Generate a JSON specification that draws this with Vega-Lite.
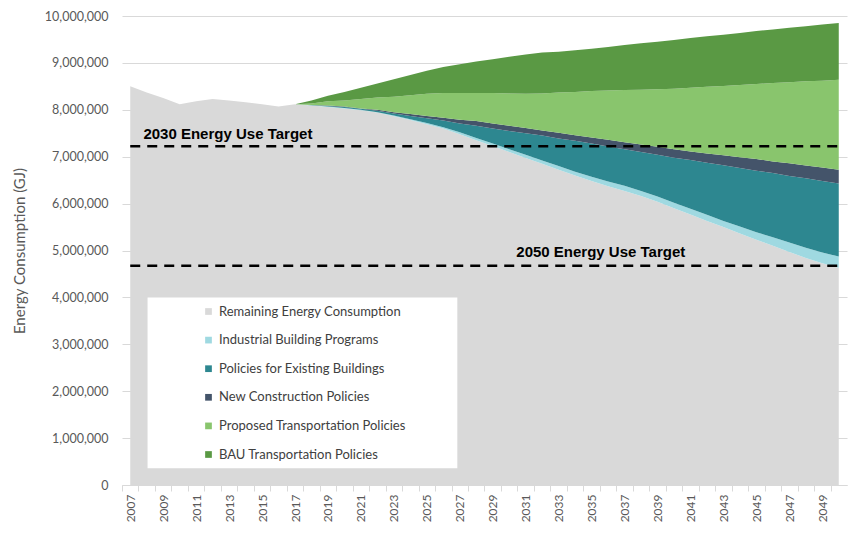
{
  "$schema": "https://vega.github.io/schema/vega-lite/v6.json",
  "width": 725,
  "height": 469,
  "autosize": {"type": "none"},
  "padding": {"left": 122, "top": 16, "right": 8, "bottom": 49},
  "background": "white",
  "config": {"view": {"stroke": null}, "axisX": {"labelOverlap": false, "labelBound": false}},
  "layer": [
    {
      "data": {"values": [
        {"year": 2007, "rem": 8500000, "ind": 0, "exi": 0, "newc": 0, "prop": 0, "bau": 0},
        {"year": 2008, "rem": 8370000, "ind": 0, "exi": 0, "newc": 0, "prop": 0, "bau": 0},
        {"year": 2009, "rem": 8250000, "ind": 0, "exi": 0, "newc": 0, "prop": 0, "bau": 0},
        {"year": 2010, "rem": 8120000, "ind": 0, "exi": 0, "newc": 0, "prop": 0, "bau": 0},
        {"year": 2011, "rem": 8180000, "ind": 0, "exi": 0, "newc": 0, "prop": 0, "bau": 0},
        {"year": 2012, "rem": 8230000, "ind": 0, "exi": 0, "newc": 0, "prop": 0, "bau": 0},
        {"year": 2013, "rem": 8200000, "ind": 0, "exi": 0, "newc": 0, "prop": 0, "bau": 0},
        {"year": 2014, "rem": 8160000, "ind": 0, "exi": 0, "newc": 0, "prop": 0, "bau": 0},
        {"year": 2015, "rem": 8120000, "ind": 0, "exi": 0, "newc": 0, "prop": 0, "bau": 0},
        {"year": 2016, "rem": 8070000, "ind": 0, "exi": 0, "newc": 0, "prop": 0, "bau": 0},
        {"year": 2017, "rem": 8120000, "ind": 0, "exi": 0, "newc": 0, "prop": 0, "bau": 0},
        {"year": 2018, "rem": 8090000, "ind": 5000, "exi": 5000, "newc": 5000, "prop": 30000, "bau": 65000},
        {"year": 2019, "rem": 8060000, "ind": 10000, "exi": 10000, "newc": 10000, "prop": 90000, "bau": 120000},
        {"year": 2020, "rem": 8030000, "ind": 10000, "exi": 20000, "newc": 10000, "prop": 130000, "bau": 180000},
        {"year": 2021, "rem": 7990000, "ind": 10000, "exi": 20000, "newc": 10000, "prop": 200000, "bau": 240000},
        {"year": 2022, "rem": 7940000, "ind": 10000, "exi": 30000, "newc": 20000, "prop": 260000, "bau": 300000},
        {"year": 2023, "rem": 7860000, "ind": 20000, "exi": 40000, "newc": 30000, "prop": 330000, "bau": 370000},
        {"year": 2024, "rem": 7780000, "ind": 20000, "exi": 70000, "newc": 40000, "prop": 400000, "bau": 430000},
        {"year": 2025, "rem": 7690000, "ind": 30000, "exi": 100000, "newc": 50000, "prop": 470000, "bau": 490000},
        {"year": 2026, "rem": 7600000, "ind": 30000, "exi": 140000, "newc": 60000, "prop": 530000, "bau": 550000},
        {"year": 2027, "rem": 7480000, "ind": 40000, "exi": 190000, "newc": 80000, "prop": 570000, "bau": 610000},
        {"year": 2028, "rem": 7350000, "ind": 50000, "exi": 260000, "newc": 100000, "prop": 600000, "bau": 670000},
        {"year": 2029, "rem": 7230000, "ind": 50000, "exi": 320000, "newc": 110000, "prop": 650000, "bau": 720000},
        {"year": 2030, "rem": 7100000, "ind": 60000, "exi": 390000, "newc": 110000, "prop": 690000, "bau": 780000},
        {"year": 2031, "rem": 6970000, "ind": 70000, "exi": 460000, "newc": 110000, "prop": 730000, "bau": 840000},
        {"year": 2032, "rem": 6850000, "ind": 70000, "exi": 530000, "newc": 110000, "prop": 790000, "bau": 870000},
        {"year": 2033, "rem": 6720000, "ind": 80000, "exi": 590000, "newc": 120000, "prop": 860000, "bau": 870000},
        {"year": 2034, "rem": 6600000, "ind": 80000, "exi": 660000, "newc": 120000, "prop": 920000, "bau": 890000},
        {"year": 2035, "rem": 6480000, "ind": 90000, "exi": 710000, "newc": 130000, "prop": 990000, "bau": 900000},
        {"year": 2036, "rem": 6370000, "ind": 100000, "exi": 750000, "newc": 140000, "prop": 1050000, "bau": 930000},
        {"year": 2037, "rem": 6270000, "ind": 110000, "exi": 780000, "newc": 150000, "prop": 1110000, "bau": 960000},
        {"year": 2038, "rem": 6160000, "ind": 110000, "exi": 830000, "newc": 160000, "prop": 1170000, "bau": 990000},
        {"year": 2039, "rem": 6040000, "ind": 110000, "exi": 890000, "newc": 170000, "prop": 1230000, "bau": 1010000},
        {"year": 2040, "rem": 5900000, "ind": 120000, "exi": 960000, "newc": 180000, "prop": 1290000, "bau": 1040000},
        {"year": 2041, "rem": 5770000, "ind": 120000, "exi": 1040000, "newc": 180000, "prop": 1360000, "bau": 1060000},
        {"year": 2042, "rem": 5630000, "ind": 130000, "exi": 1110000, "newc": 200000, "prop": 1420000, "bau": 1080000},
        {"year": 2043, "rem": 5500000, "ind": 130000, "exi": 1190000, "newc": 210000, "prop": 1480000, "bau": 1090000},
        {"year": 2044, "rem": 5360000, "ind": 150000, "exi": 1250000, "newc": 230000, "prop": 1540000, "bau": 1110000},
        {"year": 2045, "rem": 5230000, "ind": 160000, "exi": 1310000, "newc": 250000, "prop": 1600000, "bau": 1130000},
        {"year": 2046, "rem": 5100000, "ind": 180000, "exi": 1370000, "newc": 250000, "prop": 1670000, "bau": 1140000},
        {"year": 2047, "rem": 4970000, "ind": 200000, "exi": 1420000, "newc": 270000, "prop": 1730000, "bau": 1160000},
        {"year": 2048, "rem": 4840000, "ind": 220000, "exi": 1480000, "newc": 270000, "prop": 1800000, "bau": 1170000},
        {"year": 2049, "rem": 4730000, "ind": 230000, "exi": 1520000, "newc": 290000, "prop": 1850000, "bau": 1200000},
        {"year": 2050, "rem": 4630000, "ind": 240000, "exi": 1560000, "newc": 290000, "prop": 1920000, "bau": 1210000}
      ]},
      "transform": [
        {"fold": ["rem", "ind", "exi", "newc", "prop", "bau"], "as": ["key", "value"]},
        {"lookup": "key", "from": {"data": {"values": [
          {"key": "rem", "label": "Remaining Energy Consumption", "rank": 1},
          {"key": "ind", "label": "Industrial Building Programs", "rank": 2},
          {"key": "exi", "label": "Policies for Existing Buildings", "rank": 3},
          {"key": "newc", "label": "New Construction Policies", "rank": 4},
          {"key": "prop", "label": "Proposed Transportation Policies", "rank": 5},
          {"key": "bau", "label": "BAU Transportation Policies", "rank": 6}
        ]}, "key": "key", "fields": ["label", "rank"]}}
      ],
      "mark": {"type": "area", "interpolate": "linear"},
      "encoding": {
        "x": {
          "field": "year", "type": "quantitative",
          "scale": {"domain": [2006.5, 2050.5], "nice": false, "zero": false},
          "axis": {
            "title": null,
            "values": [2007,2008,2009,2010,2011,2012,2013,2014,2015,2016,2017,2018,2019,2020,2021,2022,2023,2024,2025,2026,2027,2028,2029,2030,2031,2032,2033,2034,2035,2036,2037,2038,2039,2040,2041,2042,2043,2044,2045,2046,2047,2048,2049,2050],
            "tickCount": 100,
            "labelExpr": "datum.value % 2 == 1 ? '' + datum.value : ''",
            "labelAngle": -90, "labelAlign": "right", "labelBaseline": "middle",
            "labelFont": "Lato", "labelFontSize": 12, "labelColor": "#595959",
            "labelOverlap": false, "labelPadding": 3,
            "tickColor": "#d9d9d9", "tickSize": 6, "tickOffset": -8.24, "labelOffset": 8.24,
            "domainColor": "#d9d9d9", "grid": false
          }
        },
        "y": {
          "field": "value", "type": "quantitative", "stack": "zero",
          "scale": {"domain": [0, 10000000], "nice": false},
          "axis": {
            "title": "Energy Consumption (GJ)",
            "titleFont": "Lato", "titleFontSize": 15, "titleFontWeight": "normal", "titleColor": "#595959", "titlePadding": 17,
            "values": [0,1000000,2000000,3000000,4000000,5000000,6000000,7000000,8000000,9000000,10000000],
            "tickCount": 20,
            "format": ",d",
            "labelFont": "Lato", "labelFontSize": 12.5, "labelColor": "#595959", "labelPadding": 14,
            "ticks": false, "domain": false,
            "grid": true, "gridColor": "#d9d9d9", "gridWidth": 1
          }
        },
        "color": {
          "field": "label", "type": "nominal",
          "scale": {
            "domain": ["Remaining Energy Consumption", "Industrial Building Programs", "Policies for Existing Buildings", "New Construction Policies", "Proposed Transportation Policies", "BAU Transportation Policies"],
            "range": ["#d9d9d9", "#9fd9e1", "#2d8790", "#44546a", "#89c56d", "#5a9944"]
          },
          "legend": {
            "title": null, "orient": "none", "legendX": 80, "legendY": 289,
            "padding": 0, "symbolType": "square", "symbolSize": 45, "symbolStrokeWidth": 0,
            "labelFont": "Lato", "labelFontSize": 13, "labelColor": "#404040",
            "labelOffset": 4, "rowPadding": 14.6, "labelLimit": 400
          }
        },
        "order": {"field": "rank", "type": "quantitative"}
      }
    },
    {
      "data": {"values": [{}]},
      "mark": {"type": "rect", "color": "white"},
      "encoding": {
        "x": {"datum": 2008.05, "type": "quantitative"},
        "x2": {"datum": 2026.85},
        "y": {"datum": 4000000, "type": "quantitative"},
        "y2": {"datum": 356000}
      }
    },
    {
      "data": {"values": [
        {"target": "2030 Energy Use Target", "value": 7225000},
        {"target": "2050 Energy Use Target", "value": 4675000}
      ]},
      "mark": {"type": "rule", "color": "black", "strokeWidth": 2.5, "strokeDash": [10, 7]},
      "encoding": {
        "x": {"datum": 2007, "type": "quantitative"},
        "x2": {"datum": 2050},
        "y": {"field": "value", "type": "quantitative"}
      }
    },
    {
      "data": {"values": [{"target": "2030 Energy Use Target", "value": 7225000}]},
      "mark": {"type": "text", "align": "left", "baseline": "alphabetic", "dy": -7, "font": "Liberation Sans", "fontSize": 15, "fontWeight": "bold", "color": "black"},
      "encoding": {
        "x": {"datum": 2007.8, "type": "quantitative"},
        "y": {"field": "value", "type": "quantitative"},
        "text": {"field": "target"}
      }
    },
    {
      "data": {"values": [{"target": "2050 Energy Use Target", "value": 4675000}]},
      "mark": {"type": "text", "align": "left", "baseline": "alphabetic", "dy": -9, "font": "Liberation Sans", "fontSize": 15, "fontWeight": "bold", "color": "black"},
      "encoding": {
        "x": {"datum": 2030.43, "type": "quantitative"},
        "y": {"field": "value", "type": "quantitative"},
        "text": {"field": "target"}
      }
    }
  ]
}
